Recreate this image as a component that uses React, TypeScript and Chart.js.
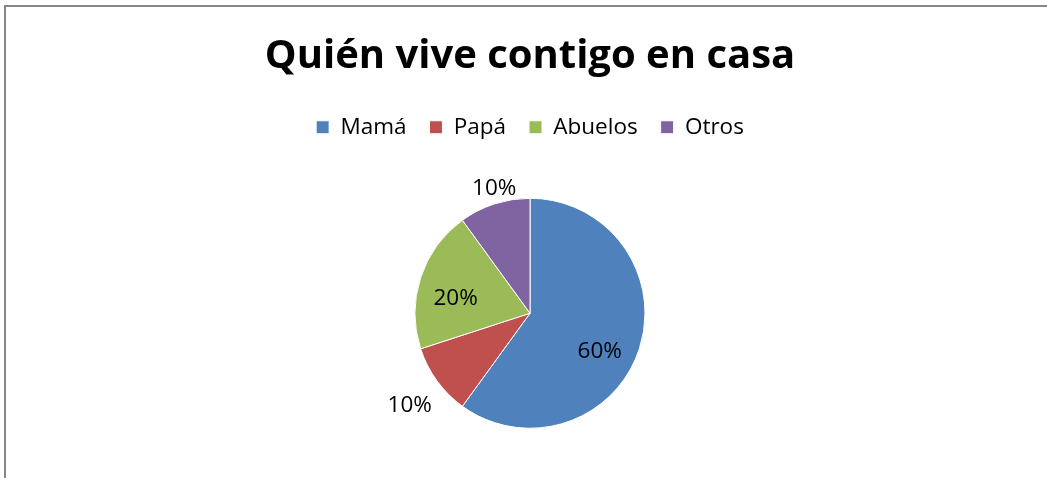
import { useEffect, useRef } from "react";
import { Chart, registerables } from "chart.js";

Chart.register(...registerables);

const TITLE = "Quién vive contigo en casa";
const CATEGORIES = ["Mamá", "Papá", "Abuelos", "Otros"];
const VALUES = [60, 10, 20, 10];
const COLORS = ["#4F81BD", "#C0504D", "#9BBB59", "#8064A2"];

// label placement relative to each slice (radius factor, angle shift in degrees)
const LABEL_RADIUS = [0.69, 1.32, 0.66, 1.13];
const LABEL_ANGLE_SHIFT = [10.5, -1.6, -6.5, 2];

const FONT = "'Open Sans', 'Noto Sans', sans-serif";

const frame = {
  id: "frame",
  beforeDraw(chart: any) {
    const ctx = chart.ctx;
    ctx.save();
    ctx.strokeStyle = "#878787";
    ctx.lineWidth = 2;
    ctx.beginPath();
    ctx.moveTo(5, chart.height + 10);
    ctx.lineTo(5, 6);
    ctx.lineTo(chart.width + 10, 6);
    ctx.stroke();
    ctx.restore();
  },
};

const pctLabels = {
  id: "pctLabels",
  afterDatasetsDraw(chart: any) {
    const ctx = chart.ctx;
    const meta = chart.getDatasetMeta(0);
    const data = chart.data.datasets[0].data as number[];
    const total = data.reduce((a, b) => a + b, 0);
    ctx.save();
    ctx.font = `22.5px ${FONT}`;
    ctx.fillStyle = "#000";
    ctx.textAlign = "center";
    ctx.textBaseline = "middle";
    meta.data.forEach((arc: any, i: number) => {
      const { x, y, startAngle, endAngle, outerRadius } = arc.getProps(
        ["x", "y", "startAngle", "endAngle", "outerRadius"],
        true
      );
      const mid = (startAngle + endAngle) / 2 + (LABEL_ANGLE_SHIFT[i] * Math.PI) / 180;
      const r = outerRadius * LABEL_RADIUS[i];
      const pct = Math.round((data[i] / total) * 100) + "%";
      ctx.fillText(pct, x + r * Math.cos(mid), y + r * Math.sin(mid));
    });
    ctx.restore();
  },
};

export default function App() {
  const ref = useRef<HTMLCanvasElement>(null);
  useEffect(() => {
    if (!ref.current) return;
    const chart = new Chart(ref.current, {
      type: "pie",
      data: {
        labels: CATEGORIES,
        datasets: [
          {
            data: VALUES,
            backgroundColor: COLORS,
            borderColor: "#ffffff",
            borderWidth: 1,
          },
        ],
      },
      options: {
        animation: false,
        responsive: false,
        radius: 115,
        layout: { padding: { left: 13, right: 0, top: 0, bottom: -6 } },
        plugins: {
          title: {
            display: true,
            text: TITLE,
            color: "#000",
            font: { family: FONT, size: 40, weight: "bold", lineHeight: 1.2 },
            padding: { top: 33, bottom: 12 },
          },
          legend: {
            display: true,
            position: "top",
            labels: {
              color: "#000",
              font: { family: FONT, size: 22.5 },
              boxWidth: 13,
              boxHeight: 13,
              padding: 23,
            },
          },
          tooltip: { enabled: false },
        },
      },
      plugins: [frame, pctLabels],
    });
    return () => chart.destroy();
  }, []);
  return (
    <div style={{ position: "absolute", left: 0, top: 0, width: 1047, height: 478 }}>
      <canvas ref={ref} width={1047} height={478} />
    </div>
  );
}
